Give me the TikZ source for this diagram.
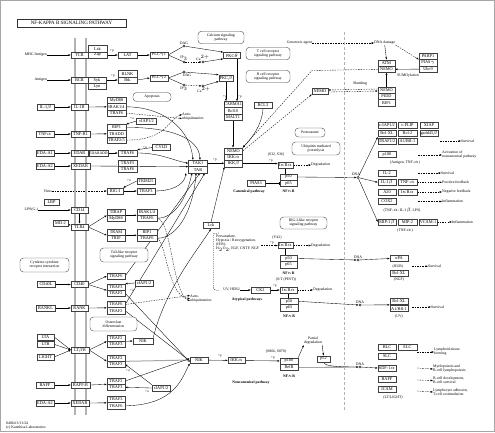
\documentclass[tikz,border=0pt]{standalone}
\usepackage{fontspec}
\setmainfont{Liberation Serif}
\usetikzlibrary{arrows.meta,backgrounds}
\newcommand{\genefont}{\fontsize{4.3}{4.6}\selectfont}
\newcommand{\notefont}{\fontsize{3.8}{4.1}\selectfont}
\begin{document}
\begin{tikzpicture}[x=1pt,y=-1pt,
    gene/.style={draw=black!75,line width=0.35pt,fill=white,minimum width=18pt,minimum height=6.3pt,font=\genefont},
    mapbox/.style={draw=black!75,line width=0.35pt,fill=white,rounded corners=3.5pt,minimum width=46pt,minimum height=12.5pt,align=center,font=\notefont},
    cpd/.style={circle,draw=black,line width=0.35pt,fill=white,minimum size=2.4pt,label distance=0.6pt},
    note/.style={font=\notefont,align=left},
    pathlabel/.style={font=\notefont\bfseries},
    modlabel/.style={font=\fontsize{3.3}{3.5}\selectfont},
    act/.style={-{Latex[length=2.3pt,width=1.9pt]},line width=0.35pt},
    ind/.style={act,dash pattern=on 1.5pt off 1.1pt},
    inh/.style={-{Bar[width=3pt]},line width=0.35pt},
    memb/.style={gray!60,line width=1.6pt}]
    \tikzstyle{every node}+=[inner sep=0pt]
    \useasboundingbox (0,0) rectangle (495,432);
    \draw[gray!70,line width=0.8pt] (0.5,0.5) rectangle (494.5,431.5);
    \draw[memb] (75,38) -- (75,415);
    \draw[memb] (86,38) -- (86,415);
    \draw[gray!60,line width=1.6pt,dash pattern=on 3pt off 2pt] (344.5,32) -- (344.5,412);
    \node[draw=black!80,line width=0.4pt,minimum width=109pt,minimum height=8pt,font=\fontsize{5}{5.5}\selectfont] (title) at (71.5,23) {NF-KAPPA B SIGNALING PATHWAY};

    \node[note,anchor=east] (mhc) at (47,55) {MHC/Antigen};
    \node[gene,minimum width=17pt] (tcr) at (79.5,55) {TCR};
    \node[gene,minimum width=19pt] (lck) at (97.5,48.7) {Lck};
    \node[gene,minimum width=19pt] (zap) at (97.5,55) {Zap};
    \node[modlabel] at (112,50.5) {+p};
    \node[gene,minimum width=19pt] (lat) at (127.5,55) {LAT};
    \node[gene] (plcga) at (159,55) {PLC$\gamma$1};
    \node[note,anchor=east] (antigen) at (47,80) {Antigen};
    \node[gene,minimum width=17pt] (bcr) at (79.5,80) {BCR};
    \node[gene] (syk) at (97,80) {Syk};
    \node[gene] (lyn) at (97,86.3) {Lyn};
    \node[gene,minimum width=19pt] (blnk) at (127.5,73.7) {BLNK};
    \node[gene,minimum width=19pt] (btk) at (127.5,80) {Btk};
    \node[modlabel] at (113,76) {+p};
    \node[gene] (plcgb) at (159,78) {PLC$\gamma$2};
    \node[cpd,label={[note]above:DAG}] (daga) at (184,46) {};
    \node[cpd,label={[note]above:IP$_3$}] (ipa) at (184,62) {};
    \node[cpd,label={[note]above:Ca$^{2+}$}] (caa) at (203,62) {};
    \node[cpd,label={[note,xshift=3pt]below:DAG}] (dagb) at (184,72) {};
    \node[cpd,label={[note]below:IP$_3$}] (ipb) at (184,85) {};
    \node[cpd,label={[note,xshift=1pt]below:Ca$^{2+}$}] (cab) at (203,86) {};
    \node[gene,minimum width=17pt] (pkct) at (232,55.5) {PKC$\theta$};
    \node[gene,minimum width=14pt] (pkcb) at (226,78) {PKC$\beta$};
    \node[mapbox] (calcium) at (221,37.5) {Calcium signaling\\pathway};
    \node[mapbox,minimum width=44pt] (tcrpath) at (268,53.5) {T cell receptor\\signaling pathway};
    \node[mapbox,minimum width=44pt] (bcrpath) at (268,76.5) {B cell receptor\\signaling pathway};
    \node[gene] (carma) at (233,104.5) {CARMA1};
    \node[gene] (bcl10) at (233,110.8) {Bcl10};
    \node[gene] (malt1) at (233,117.1) {MALT1};
    \node[modlabel] at (225,97) {+p};
    \node[modlabel] at (240,97) {+p};
    \node[gene] (bcl3) at (263,105.5) {BCL3};

    \node[mapbox,minimum width=38pt,minimum height=9pt] (apop) at (152,97) {Apoptosis};
    \node[gene,minimum width=17pt] (il1b) at (45.5,107) {IL-1$\beta$};
    \node[gene,minimum width=17pt] (il1r) at (79.5,107) {IL-1R};
    \node[gene,minimum width=19pt] (myd88) at (116.5,100.5) {MyD88};
    \node[gene,minimum width=19pt] (irak14) at (116.5,106.8) {IRAK1/4};
    \node[gene,minimum width=19pt] (traf6i) at (116.5,113.1) {TRAF6};
    \node[gene,minimum width=20pt] (ciap) at (146.5,121) {cIAP1/2};
    \node[modlabel] at (132,119) {+u};
    \node[gene] (tnfa) at (45,134) {TNF$\alpha$};
    \node[gene,minimum width=19pt] (tnfr1) at (80.5,134) {TNF-R1};
    \node[gene,minimum width=19pt] (rip1) at (116.5,127.5) {RIP1};
    \node[gene,minimum width=19pt] (tradd) at (116.5,133.8) {TRADD};
    \node[gene,minimum width=19pt] (traf25) at (116.5,140.1) {TRAF2/5};
    \node[note,anchor=west] (autoa) at (182,116.5) {Auto-\\ubiquitination};
    \node[gene] (cyld) at (161.5,147.5) {CYLD};
    \node[modlabel] at (145,147.5) {+u};
    \node[gene] (edaa) at (45,153) {EDA-A1};
    \node[gene,minimum width=17pt] (edar) at (79.5,153) {EDAR};
    \node[gene,minimum width=19pt,font=\fontsize{3.7}{4}\selectfont] (edaradd) at (98.5,153) {EDARADD};
    \node[gene,minimum width=19pt] (traf6e) at (127.5,153) {TRAF6};
    \node[gene] (edab) at (45,166) {EDA-A2};
    \node[gene,minimum width=19pt] (xedar) at (80.5,166) {XEDAR};
    \node[gene,minimum width=19pt] (traf3x) at (127.5,163.2) {TRAF3};
    \node[gene,minimum width=19pt] (traf6x) at (127.5,169.5) {TRAF6};
    \node[gene,minimum width=19pt] (tak1) at (198,163.3) {TAK1};
    \node[gene,minimum width=19pt] (tab) at (198,169.6) {TAB};
    \node[modlabel] at (215,159.5) {+p};
    \node[gene] (nemo) at (233.5,151) {NEMO};
    \node[gene] (ikka) at (233.5,157.3) {IKK$\alpha$};
    \node[gene] (ikkb) at (233.5,163.6) {IKK$\beta$};
    \node[note,anchor=east] (virus) at (52,191) {Virus};
    \node[gene,minimum width=16pt] (rigi) at (115,191) {RIG-I};
    \node[gene] (trim25) at (146,181) {TRIM25};
    \node[modlabel] at (129,180.5) {+u};
    \node[gene] (trafr) at (146,191) {TRAF3};

    \node[gene,minimum width=15pt] (lbp) at (51.5,202.5) {LBP};
    \node[note,anchor=east] (lps) at (38,210) {LPS(G-)};
    \node[gene,minimum width=17pt] (cd14) at (79.5,210) {CD14};
    \node[gene,minimum width=15pt] (md2) at (60.5,223) {MD-2};
    \node[gene,minimum width=17pt] (tlr4) at (79.5,227) {TLR4};
    \node[gene] (tirap) at (116,212) {TIRAP};
    \node[gene] (myd88t) at (116,218.3) {MyD88};
    \node[gene,minimum width=20pt] (irak14t) at (147,212) {IRAK1/4};
    \node[gene,minimum width=20pt] (traf6t) at (147,218.3) {TRAF6};
    \node[gene] (tram) at (116,232) {TRAM};
    \node[gene] (trif) at (116,238.3) {TRIF};
    \node[gene,minimum width=20pt] (rip1t) at (147,232) {RIP1};
    \node[gene,minimum width=20pt] (traf6r) at (147,238.3) {TRAF6};
    \node[mapbox,minimum width=48pt,minimum height=14pt] (toll) at (124,255) {Toll-like receptor\\signaling pathway};
    \node[mapbox,minimum width=49pt,minimum height=14pt] (cytokine) at (44.5,265) {Cytokine-cytokine\\receptor interaction};

    \node[gene] (cd40l) at (46,284.5) {CD40L};
    \node[gene,minimum width=17pt] (cd40) at (79.5,284.5) {CD40};
    \node[gene] (traf6c) at (116,276) {TRAF6};
    \node[gene] (traf3c) at (116,287) {TRAF3};
    \node[gene] (traf2c) at (116,293.3) {TRAF2};
    \node[gene] (ciapc) at (144,283) {cIAP1/2};
    \node[modlabel] at (132,290.5) {+u};
    \node[gene,minimum width=19pt] (rankl) at (45.5,308) {RANKL};
    \node[gene,minimum width=17pt] (rank) at (79.5,308) {RANK};
    \node[gene] (traf6k) at (116,304.5) {TRAF6};
    \node[gene] (traf2k) at (116,310.8) {TRAF2};
    \node[note,anchor=west] (autob) at (190,298.5) {Auto-\\ubiquitination};
    \node[mapbox,minimum width=47pt,minimum height=14pt] (osteo) at (113.5,324) {Osteoclast\\differentiation};
    \node[gene,minimum width=17pt] (lta) at (45.5,337) {LTA};
    \node[gene,minimum width=17pt] (ltb) at (45.5,344.3) {LTB};
    \node[gene,minimum width=17pt] (light) at (45.5,357) {LIGHT};
    \node[gene] (ltbr) at (80,350) {LT$\beta$R};
    \node[gene] (traf2l) at (116,338) {TRAF2};
    \node[gene] (traf3l) at (116,344.3) {TRAF3};
    \node[gene,minimum width=20pt] (nika) at (143,341) {NIK};
    \node[gene] (traf2m) at (116,358) {TRAF2};
    \node[gene] (traf3m) at (116,364.3) {TRAF3};
    \node[modlabel] at (128,370.5) {+u};
    \node[gene] (baff) at (45,385) {BAFF};
    \node[gene,minimum width=19pt] (baffr) at (80.5,385) {BAFF-R};
    \node[gene] (traf2b) at (116,381) {TRAF2};
    \node[gene] (traf3b) at (116,387.3) {TRAF3};
    \node[gene] (ciapb) at (161,388) {cIAP1/2};
    \node[modlabel] at (147,392) {+u};
    \node[gene] (edac) at (45,403) {EDA-A2};
    \node[gene] (xedarb) at (80,403) {XEDAR};
    \node[gene] (traf3y) at (116,399.5) {TRAF3};
    \node[gene] (traf6y) at (116,405.8) {TRAF6};
    \node[note] (date) at (6,423) [anchor=west] {04064 3/11/24};
    \node[note] (copy) at (6,428) [anchor=west] {(c) Kanehisa Laboratories};

    \node[gene,minimum width=15pt] (ikbaa) at (285.5,165) {I$\kappa$B$\alpha$};
    \node[gene,minimum width=17pt] (p50a) at (288.5,177) {p50};
    \node[gene,minimum width=17pt] (p65a) at (288.5,183.3) {p65};
    \node[pathlabel] at (288.5,191.5) {NF$\kappa$B};
    \node[note] at (276,155) {(S32, S36)};
    \node[modlabel] at (271,160.5) {+p};
    \node[note,anchor=west] (dega) at (311,165) {Degradation};
    \node[gene] (pias) at (256,183.3) {PIAS3};
    \node[pathlabel] at (249,192) {Canonical pathway};
    \node[mapbox,minimum width=30pt,minimum height=9pt] (protea) at (310,132.5) {Proteasome};
    \node[mapbox,minimum width=48pt,minimum height=13pt] (ubiq) at (316,148.5) {Ubiquitin mediated\\proteolysis};
    \node[gene,minimum width=16pt] (lckb) at (211,225.5) {Lck};
    \node[mapbox,minimum width=47pt,minimum height=12pt] (rlr) at (303.5,223) {RIG-I-like receptor\\signaling pathway};
    \node[note,anchor=north west] (perv) at (216,234.5) {Pervanadate,\\Hypoxia / Reoxygenation,\\(H/R),\\H$_2$O$_2$, EGF, CNTF, NGF};
    \coordinate (pv) at (261,245.5);
    \node[note] at (277,237.5) {(Y42)};
    \node[modlabel] at (272,243) {+p};
    \node[gene,minimum width=15pt] (ikbab) at (285.5,245.5) {I$\kappa$B$\alpha$};
    \node[note,anchor=west] (degb) at (311,245.5) {Degradation};
    \node[gene,minimum width=17pt] (p50b) at (288.5,258.5) {p50};
    \node[gene,minimum width=17pt] (p65b) at (288.5,264.8) {p65};
    \node[pathlabel] at (288.5,273) {NF$\kappa$B};
    \node[note] at (286,280) {(S/T (PEST))};
    \node[modlabel] at (275,285.5) {+p};
    \node[note,anchor=east] (uv) at (240,290) {UV, HER2};
    \node[gene,minimum width=19pt] (ck2) at (260.5,290) {CK2};
    \node[gene,minimum width=17pt] (ikbac) at (288.5,290) {I$\kappa$B$\alpha$};
    \node[note,anchor=west] (degc) at (313,290) {Degradation};
    \node[gene] (p50c) at (289,301.3) {p50};
    \node[gene] (p65c) at (289,307.6) {p65};
    \node[pathlabel] at (289,316) {NF$\kappa$B};
    \node[pathlabel] at (247,300) {Atypical pathways};
    \node[gene] (nikb) at (199,360) {NIK};
    \node[modlabel] at (220,356) {+p};
    \node[gene,minimum width=17pt] (ikkac) at (236.5,360.5) {IKK$\alpha$};
    \node[note] at (276,352) {(S866, S870)};
    \node[modlabel] at (273,357.5) {+p};
    \node[gene] (p100b) at (289,361) {p100};
    \node[gene] (relb) at (289,367.3) {RelB};
    \node[pathlabel] at (289,376) {NF$\kappa$B};
    \node[pathlabel] at (251,383) {Noncanonical pathway};
    \node[note,align=center] (pdeg) at (313,341) {Partial\\degradation};
    \node[gene,minimum width=13pt] (p52) at (323.5,359) {p52};

    \node[note,anchor=east] (genotox) at (312,43) {Genotoxic agent};
    \node[note,anchor=west] (dnadam) at (374,43) {DNA damage};
    \node[gene,minimum width=17pt] (atm) at (386.5,63) {ATM};
    \node[gene,minimum width=17pt] (nemoa) at (386.5,69.3) {NEMO};
    \node[gene] (parp1) at (428,56.5) {PARP1};
    \node[gene] (piasg) at (428,62.8) {PIAS$\gamma$};
    \node[gene] (ubc9) at (428,69.1) {Ubc9};
    \node[note] at (408,76) {SUMOylation};
    \node[gene,minimum width=17pt] (nemon) at (386.5,90) {NEMO};
    \node[gene,minimum width=17pt] (pidd) at (386.5,96.3) {PIDD};
    \node[gene,minimum width=17pt] (rip1n) at (386.5,102.6) {RIP1};
    \node[note] at (360,84) {Shuttling};
    \node[gene,minimum width=16pt] (nemoc) at (320,91) {NEMO};
    \coordinate (bendn) at (312,70.5);

    \node[cpd,label={[note,xshift=-2pt]above:DNA}] (dnaa) at (358,177.5) {};
    \node[gene] (ciapr) at (387,125.5) {c-IAP1/2};
    \node[gene,minimum width=19pt] (cflip) at (407.5,125.5) {c-FLIP};
    \node[gene] (xiap) at (429,125.5) {XIAP};
    \node[gene] (bclxl) at (387,133.5) {Bcl-XL};
    \node[gene,minimum width=19pt] (bcl2) at (407.5,133.5) {Bcl-2};
    \node[gene] (gadd) at (429,133.5) {gadd45$\beta$};
    \node[gene] (traf12) at (387,141) {TRAF1/2};
    \node[gene,minimum width=19pt] (aone) at (407.5,141) {A1/Bfl-1};
    \coordinate (sa) at (440,141);
    \node[note,anchor=west] (surva) at (461,141) {Survival};
    \node[gene] (p100r) at (387,154.5) {p100};
    \node[note] at (405,162.5) {(Antigen, TNF-$\alpha$)};
    \coordinate (sb) at (418,155);
    \node[note,anchor=west] (actnc) at (442,155) {Activation of\\noncanonical pathway};
    \node[gene] (il2) at (387,173) {IL-2};
    \coordinate (sc) at (418,173);
    \node[note,anchor=west] (survb) at (441,173) {Survival};
    \node[gene] (il1bg) at (387,182.3) {IL-1$\beta$};
    \node[gene,minimum width=19pt] (tnfag) at (407.5,182.3) {TNF-$\alpha$};
    \node[note,anchor=west] (posfb) at (442,182.3) {Positive feedback};
    \node[gene] (a20) at (387,192) {A20};
    \node[gene,minimum width=19pt] (ikbag) at (407.5,192) {I$\kappa$B$\alpha$};
    \node[note,anchor=west] (negfb) at (442,192) {Negative feedback};
    \node[gene] (cox2) at (387,201.5) {COX2};
    \coordinate (sd) at (418,201.5);
    \node[note,anchor=west] (infla) at (442,201.5) {Inflammation};
    \node[note] at (402,210) {(TNF-$\alpha$, IL-1$\beta$, LPS)};
    \node[gene] (mip1b) at (387,222) {MIP-1$\beta$};
    \node[gene,minimum width=19pt] (mip2) at (407.5,222) {MIP-2};
    \node[gene] (vcam) at (428,222) {VCAM-1};
    \node[note,anchor=west] (inflb) at (452,222) {Inflammation};
    \node[note] at (405,231) {(TNF-$\alpha$)};

    \node[cpd,label={[note]above:DNA}] (dnab) at (358,260) {};
    \node[gene] (upa) at (399,258.5) {uPA};
    \node[note] at (398,266.3) {(HUR)};
    \coordinate (se) at (412,266.3);
    \node[note,anchor=west] (survc) at (428,266.3) {Survival};
    \node[gene] (bclxlb) at (399,273) {Bcl-XL};
    \node[note] at (399,280) {(NGF)};
    \node[cpd,label={[note]above:DNA}] (dnac) at (360,305) {};
    \node[gene] (bclxlc) at (399,301.5) {Bcl-XL};
    \node[gene] (aoneb) at (399,308.5) {A1/Bfl-1};
    \node[note] at (399,317) {(UV)};
    \coordinate (sf) at (412,307);
    \node[note,anchor=west] (survd) at (431,307) {Survival};
    \node[cpd,label={[note]above:DNA}] (dnad) at (360,367) {};
    \node[gene] (blc) at (387,347) {BLC};
    \node[gene,minimum width=19pt] (elc) at (407.5,347) {ELC};
    \node[gene] (slc) at (387,356) {SLC};
    \node[gene] (sdf) at (387,368) {SDF-1$\alpha$};
    \node[gene] (baffg) at (387,379) {BAFF};
    \node[gene] (icam) at (387,389) {ICAM};
    \node[note] at (393,397.5) {(LT/LIGHT)};
    \coordinate (sg) at (417,352);
    \coordinate (sh) at (417,368);
    \coordinate (si) at (417,380);
    \coordinate (sj) at (417,391);
    \node[note,anchor=west] (lymph) at (434,352) {Lymphoid-tissue\\forming};
    \node[note,anchor=west] (myelo) at (433,369) {Myelopoiesis and\\B-cell lymphopoiesis};
    \node[note,anchor=west] (bdev) at (433,380.5) {B-cell development,\\B-cell survival};
    \node[note,anchor=west] (adhes) at (433,392) {Lymphocyte adhesion,\\T-cell costimulation};

    \coordinate (pkctb) at ([xshift=5pt]pkct.south);
    \begin{scope}[on background layer]
    \draw[act] (mhc) -- (tcr);
    \draw[act] (zap) -- (lat);
    \draw[act] (lat) -- (plcga);
    \draw[act] (antigen) -- (bcr);
    \draw[act] (syk) -- (btk);
    \draw[act] (btk.east) -- (plcgb.west);
    \draw[line width=0.35pt] (plcga.east) -- (daga) (plcga.east) -- (ipa);
    \draw[line width=0.35pt] (plcgb.east) -- (dagb) (plcgb.east) -- (ipb);
    \draw[ind] (ipa) -- (caa);
    \draw[ind] (ipb) -- (cab);
    \draw[act] (daga) -- (pkct.north west);
    \draw[act] (caa) -- (pkct.south west);
    \draw[act] (dagb) -- (pkcb.north west);
    \draw[act] (cab) -- (pkcb.south west);
    \draw[act] (pkcb.south) -- (pkcb.south |- carma.north);
    \draw[act] (pkctb) -- (pkctb |- carma.north);
    \draw[act] (malt1.south) -- (malt1.south |- nemo.north);
    \draw[act] (bcl3.south) .. controls (262,125) and (252,138) .. (nemo.north east);
    \draw[act] (il1b) -- (il1r);
    \draw[act] (il1r.east) -- (irak14.west);
    \draw[act] (tnfa) -- (tnfr1);
    \draw[act] (tnfr1.east) -- (tradd.west);
    \draw[act] (ciap.west) -- (rip1.north east);
    \draw[act] (irak14.east) .. controls (165,107) and (190,130) .. ([xshift=-5pt]tak1.north);
    \draw[act] (rip1.east) .. controls (170,127) and (199,138) .. ([xshift=2pt]tak1.north);
    \draw[ind] (traf6i.east) -- ([yshift=-2pt]autoa.west);
    \draw[ind] (traf25.east) .. controls (168,140) and (168,119) .. ([yshift=2pt]autoa.west);
    \draw[act] (cyld.west) -- (traf6e.north east);
    \draw[act] (edaa) -- (edar);
    \draw[act] (edaradd) -- (traf6e);
    \draw[act] (traf6e.east) .. controls (160,153) and (172,160) .. (tak1.west);
    \draw[act] (edab) -- (xedar);
    \draw[act] (xedar.east) -- (tak1.south west);
    \draw[act] (tak1.east) -- (tak1.east -| ikkb.west);
    \draw[act] (ikkb.east) -- (ikkb.east -| ikbaa.west);
    \draw[ind] (ikbaa) -- (dega);
    \draw[line width=0.35pt] (ikbaa.south) -- (ikbaa.south |- p50a.north);
    \draw[inh] (pias) -- (p65a);
    \draw[act] (p50a.east) -- (dnaa.west);
    \draw[ind] (virus) -- (rigi);
    \draw[act] (trim25.west) -- (rigi.north east);
    \draw[act] (rigi) -- (trafr);
    \draw[act] (trafr.east) .. controls (170,191) and (184,186) .. ([xshift=-12pt]tab.south);
    \draw[act] (lps) -- (cd14);
    \draw[act] (cd14) -- (tlr4);
    \draw[act] (md2) -- (tlr4);
    \draw[act] (tlr4.east) -- (tirap.south west);
    \draw[act] (tlr4.east) -- (tram.south west);
    \draw[act] (tirap.south east) -- (irak14t.south west);
    \draw[act] (tram.south east) -- (rip1t.south west);
    \draw[act] (traf6t.east) .. controls (176,218) and (187,196) .. ([xshift=-6pt]tab.south);
    \draw[act] (traf6r.east) .. controls (180,238) and (194,205) .. ([xshift=-2pt]tab.south);
    \draw[ind] (traf6t.east) .. controls (172,221) and (172,293) .. ([yshift=-2.5pt]autob.west);
    \draw[ind] (traf6r.east) .. controls (166,241) and (168,297) .. (autob.west);
    \draw[act] (cd40l) -- (cd40);
    \draw[act] (cd40.east) -- (traf6c.west);
    \draw[act] (cd40.east) -- (traf3c.south west);
    \draw[act] (ciapc.west) -- (traf3c.north east);
    \draw[act] (traf6c.east) -- ([xshift=2pt]tab.south);
    \draw[act] (traf2c.east) -- ([yshift=-2pt]nikb.west);
    \draw[act] (rankl) -- (rank);
    \draw[act] (rank.east) -- (traf6k.south west);
    \draw[act] (traf6k.east) -- ([xshift=7pt]tab.south);
    \draw[ind] (traf6k.east) -- ([yshift=3pt]autob.west);
    \draw[act] (traf2k.east) -- ([yshift=-1pt]nikb.west);
    \draw[act] (lta.east) -- (ltbr.west);
    \draw[act] (ltb.east) -- (ltbr.west);
    \draw[act] (light.east) -- (ltbr.west);
    \draw[act] (ltbr.east) -- (traf2l.south west);
    \draw[act] (ltbr.east) -- (traf2m.south west);
    \draw[act] (traf2l.south east) -- (nika.west);
    \draw[act] (nika.north east) .. controls (165,290) and (196,252) .. (lckb.south);
    \draw[act] (lckb.north) -- (ikkb.south west);
    \draw[act,gray!70,line width=1pt] (traf2m.south east) -- (nikb.west);
    \draw[act] (baff) -- (baffr);
    \draw[act] (baffr.east) -- (traf2b.south west);
    \draw[act] (ciapb.west) -- (traf3b.east);
    \draw[act] (ciapb.north west) -- (traf3m.east);
    \draw[act] (traf2b.east) -- ([yshift=1.5pt]nikb.west);
    \draw[act] (edac) -- (xedarb);
    \draw[act] (xedarb.east) -- (traf3y.south west);
    \draw[act] (traf6y.east) .. controls (175,405) and (182,378) .. (nikb.south west);
    \draw[act] (nikb) -- (ikkac);
    \draw[act] (ikkac) -- (p100b);
    \draw[act] (p100b.north east) -- (pdeg.south west);
    \draw[act] (pdeg.south east) -- (p52.north);
    \draw[act] (relb.east) -- (dnad.west);
    \draw[line width=0.35pt] (p52.south) .. controls (325,366) and (335,367) .. (dnad.west);
    \draw[dash pattern=on 1.2pt off 1pt,line width=0.35pt] (219,233) -- (213.5,233.5) -- (213.5,285) .. controls (213.5,290) .. (219,290.5);
    \draw[ind] (pv) -- (ikbab.west);
    \draw[ind] (ikbab) -- (degb);
    \draw[line width=0.35pt] (ikbab.south) -- (ikbab.south |- p50b.north);
    \draw[act] (p50b.east) -- (dnab.west);
    \draw[act] (uv) -- (ck2);
    \draw[act] (ck2) -- (ikbac);
    \draw[ind] (ikbac) -- (degc);
    \draw[line width=0.35pt] (ikbac.south) -- (ikbac.south |- p50c.north);
    \draw[act] (p50c.east) -- (dnac.west);
    \draw[ind] (genotox) -- (dnadam);
    \draw[act] (dnadam.south) -- (atm.north);
    \draw[ind] (dnadam.south east) -- (piasg.north west);
    \draw[act] (ubc9.west) -- (nemoa.east);
    \draw[act] (nemon) -- (nemoa);
    \draw[ind] ([yshift=-1pt]nemoc.east) -- ([yshift=-1pt]nemon.west);
    \draw[ind] ([yshift=1pt]nemon.west) -- ([yshift=1pt]nemoc.east);
    \draw[ind] (nemoa.west) -- (bendn) -- (nemo.north east);
    \draw[ind] (nemo.east) -- (nemoc.south west);
    \draw[act] (dnaa) -- (bclxl.south west);
    \draw[act] (dnaa) -- (il1bg.west);
    \draw[act] (dnaa) -- (mip1b.west);
    \draw[ind] (sa) -- (surva);
    \draw[ind] (sb) -- (actnc.west);
    \draw[ind] (sc) -- (survb);
    \draw[ind] (tnfag) -- (posfb);
    \draw[ind] (ikbag) -- (negfb);
    \draw[ind] (sd) -- (infla);
    \draw[ind] (vcam) -- (inflb);
    \draw[act] (dnab) -- (upa.west);
    \draw[ind] (se) -- (survc);
    \draw[act] (dnac) -- (bclxlc.south west);
    \draw[ind] (sf) -- (survd);
    \draw[act] (dnad) -- (sdf.west);
    \draw[ind] (sg) -- (lymph.west);
    \draw[ind] (sh) -- (myelo.west);
    \draw[ind] (si) -- (bdev.west);
    \draw[ind] (sj) -- (adhes.west);
    \end{scope}
\end{tikzpicture}
\end{document}
